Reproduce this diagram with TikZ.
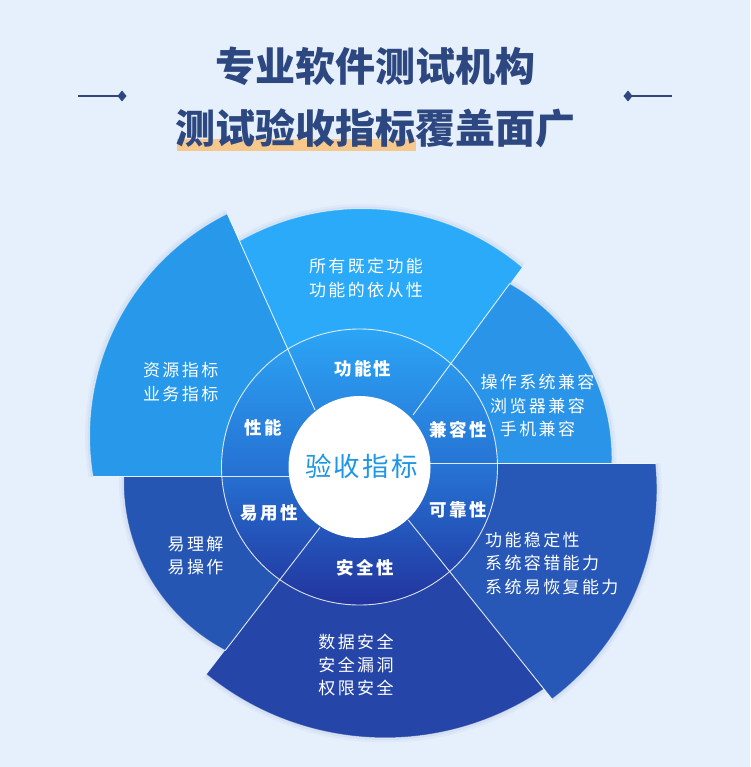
\documentclass[tikz,border=0pt]{standalone}
\usepackage{fontspec}
\newfontfamily\cjk{Noto Sans CJK SC}
\newfontfamily\cjksp[LetterSpace=14]{Noto Sans CJK SC}
\newfontfamily\cjkmid[LetterSpace=8]{Noto Sans CJK SC}
\definecolor{bgc}{RGB}{230,240,253}
\definecolor{titlec}{RGB}{45,72,128}
\definecolor{hlc}{RGB}{247,200,140}
\definecolor{cGN}{RGB}{42,170,248}
\definecolor{cXN}{RGB}{39,152,234}
\definecolor{cJR}{RGB}{41,148,232}
\definecolor{cKK}{RGB}{39,88,184}
\definecolor{cYY}{RGB}{38,86,180}
\definecolor{cAQ}{RGB}{37,70,168}
\definecolor{ringtop}{RGB}{44,165,245}
\definecolor{ringmid}{RGB}{38,115,212}
\definecolor{ringbot}{RGB}{34,52,158}
\definecolor{shc}{RGB}{70,100,170}
\definecolor{centc}{RGB}{30,150,230}
\newcommand\outsec[7]{%
  \draw[secsh1] #3 arc[start angle=#4, end angle=#5, radius=#6];
  \draw[secsh2] #3 arc[start angle=#4, end angle=#5, radius=#6];
  \fill[#1] #2 -- #3 arc[start angle=#4, end angle=#5, radius=#6] -- #7 -- (O) -- cycle;
  \draw[secrim] #3 arc[start angle=#4, end angle=#5, radius=#6];
}
\begin{document}
\begin{tikzpicture}[x=1pt,y=-1pt,
  secsh1/.style={draw=shc, line width=9pt, opacity=0.05},
  secsh2/.style={draw=shc, line width=4pt, opacity=0.07},
  secrim/.style={draw=white, line width=1pt, opacity=0.55},
  divline/.style={draw=white, line width=0.9pt, opacity=0.85},
  outtxt/.style={text=white, font=\cjksp\fontsize{17}{23.3}\selectfont, inner sep=0pt},
  intxt/.style={text=white, font=\cjksp\bfseries\fontsize{17.5}{20}\selectfont, inner sep=0pt},
  titletxt/.style={text=titlec, font=\cjk\bfseries\fontsize{40}{48}\selectfont, inner sep=0pt},
  deco/.style={draw=titlec, line width=1.3pt}
]
\useasboundingbox (0,0) rectangle (750,767);
\fill[bgc] (0,0) rectangle (750,767);
\coordinate (O) at (359.5,467);

% title
\fill[hlc] (177,139) rectangle (416,151);
\node[titletxt] (t1) at (375,66) {专业软件测试机构};
\node[titletxt] (t2) at (375,128) {测试验收指标覆盖面广};
\coordinate (dl) at (122,96);
\coordinate (dr) at (628,96);
\coordinate (dl0) at (78,96);
\coordinate (dr0) at (672,96);
\draw[deco] (dl0) -- (dl);
\draw[deco] (dr) -- (dr0);
\fill[titlec] (122,90.5) -- (126.5,96) -- (122,101.5) -- (117.5,96) -- cycle;
\fill[titlec] (628,90.5) -- (632.5,96) -- (628,101.5) -- (623.5,96) -- cycle;

% outer sectors
\outsec{cGN}{(315,410)}{(239.4,240.9)}{-119.57}{-49.89}{248.5}{(413,415)}
\outsec{cJR}{(413,415)}{(509.8,283.5)}{-60.73}{1.58}{200}{(430,463.5)}
\outsec{cAQ}{(408.3,520)}{(543.95,689.1)}{55.83}{129.1}{283}{(320,527.5)}
\outsec{cKK}{(430,463.5)}{(655.8,463.5)}{-5.56}{53.07}{263}{(408.3,520)}
\outsec{cYY}{(320,527.5)}{(225.2,650.5)}{117.79}{181.6}{190.5}{(290,476.7)}
\outsec{cXN}{(290,476.7)}{(92.9,476.7)}{170.57}{243.53}{248.5}{(315,410)}

% inner ring
\fill[top color=ringtop, bottom color=ringbot, middle color=ringmid] (O) circle (138);

% division lines
\draw[divline] (315,410) -- (227.2,213.5);
\draw[divline] (413,415) -- (509.8,283.5);
\draw[divline] (430,463.5) -- (655.8,463.5);
\draw[divline] (408.3,520) -- (552,699.2);
\draw[divline] (320,527.5) -- (225.2,650.5);
\draw[divline] (290,476.7) -- (92.9,476.7);
\draw[divline] (O) circle (138);

% centre
\fill[white] (O) circle (71);
\node[text=centc, font=\cjkmid\fontsize{26.5}{30}\selectfont, inner sep=0pt] (c) at (361.5,466.7) {验收指标};

% inner labels
\node[intxt] (iGN) at (362.8,369.3) {功能性};
\node[intxt] (iXN) at (263.5,428.3) {性能};
\node[intxt] (iJR) at (458,429.3) {兼容性};
\node[intxt] (iYY) at (269.5,512.7) {易用性};
\node[intxt] (iKK) at (458,510) {可靠性};
\node[intxt] (iAQ) at (365.5,568.3) {安全性};

% outer labels
\node[outtxt, align=center] (oGN) at (366,278) {所有既定功能\\功能的依从性};
\node[outtxt, align=center] (oXN) at (180.7,382) {资源指标\\业务指标};
\node[outtxt, align=center] (oJR) at (537.5,405.6) {操作系统兼容\\浏览器兼容\\手机兼容};
\node[outtxt, align=left, anchor=west] (oKK) at (485,563.3) {功能稳定性\\系统容错能力\\系统易恢复能力};
\node[outtxt, align=left, anchor=west] (oYY) at (167.5,555.7) {易理解\\易操作};
\node[outtxt, align=center] (oAQ) at (356,665) {数据安全\\安全漏洞\\权限安全};
\end{tikzpicture}
\end{document}
